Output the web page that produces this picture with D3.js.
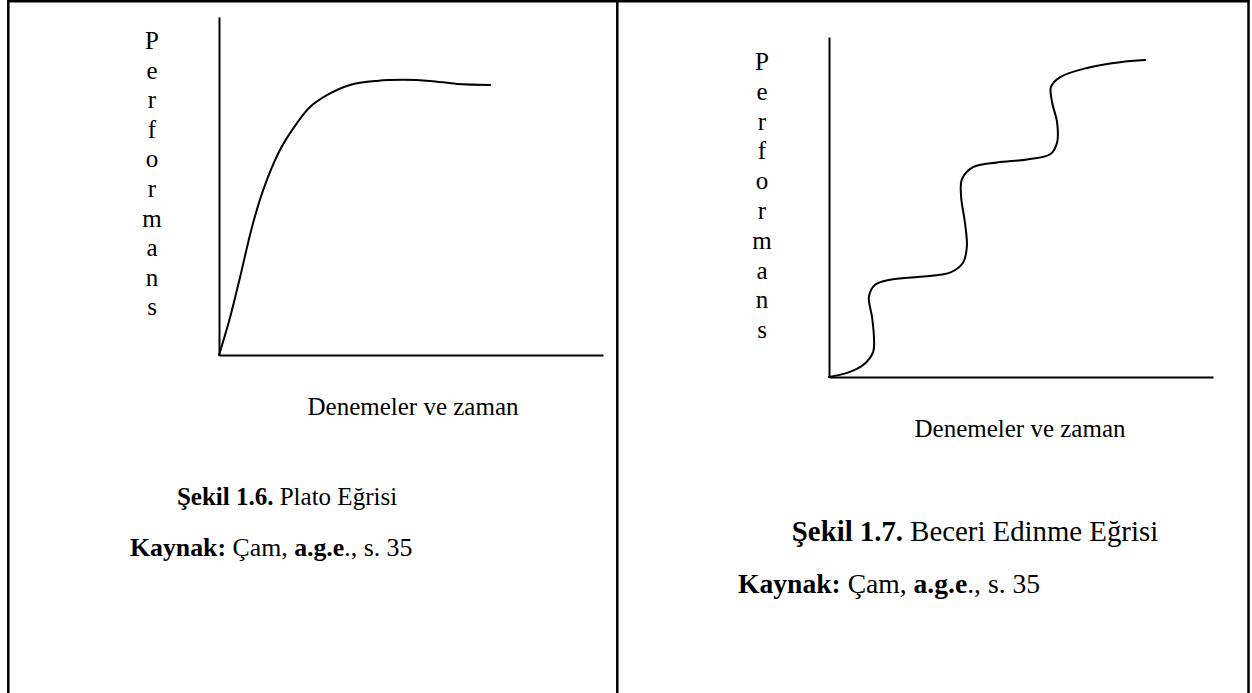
<!DOCTYPE html>
<html>
<head>
<meta charset="utf-8">
<script src="https://cdn.jsdelivr.net/npm/d3@7"></script>
<style>
  html, body { margin: 0; padding: 0; background: #fff; }
  svg { display: block; }
  text { font-family: "Liberation Serif", "Times New Roman", serif; fill: #000; }
</style>
</head>
<body>
<svg id="chart" width="1252" height="693"></svg>
<script>
// Plateau curve (Şekil 1.6): trials/time vs. performance, 0–100 scale
const plateauTrial = [0, 2.9, 5.5, 8.6, 11.5, 15.9, 20.3, 23.7, 28.1, 34.1, 41.1, 47.9, 54.9, 62.0, 70.6];
const plateauPerf  = [0, 11.2, 23.1, 37.9, 48.8, 60.7, 68.6, 73.4, 76.9, 79.9, 81.1, 81.4, 81.1, 80.2, 79.9];

// Skill acquisition curve (Şekil 1.7): stepwise rises with plateaus
const skillTrial = [0, 4.7, 8.9, 11.5, 11.7, 11.2, 10.4, 12.0, 15.9, 23.7, 31.5, 34.9, 35.9, 35.4, 34.4, 34.6, 37.5, 43.8, 51.6, 57.6, 59.4, 59.4, 58.1, 57.8, 60.2, 67.2, 75.8, 82.3];
const skillPerf  = [0, 1.2, 3.5, 7.4, 11.8, 17.7, 23.6, 27.1, 28.6, 29.5, 30.7, 33.6, 38.3, 45.4, 53.1, 58.1, 61.7, 63.1, 64.0, 65.5, 69.0, 74.9, 80.8, 85.3, 88.2, 90.9, 92.6, 93.2];

const yAxisLetters = "Performans".split("");
const xAxisLabel = "Denemeler ve zaman";
const captions = [
  { bold: "Şekil 1.6.", normal: " Plato Eğrisi" },
  { bold: "Şekil 1.7.", normal: " Beceri Edinme Eğrisi" }
];
const source = [
  { t: "Kaynak:", b: true }, { t: " Çam, ", b: false },
  { t: "a.g.e", b: true }, { t: "., s. 35", b: false }
];

const svg = d3.select("#chart");
const FS = 25;

// table frame
svg.append("line").attr("x1", 8).attr("x2", 1249.5).attr("y1", 1.2).attr("y2", 1.2)
  .attr("stroke", "#000").attr("stroke-width", 2.5);
[8.3, 617.3, 1248.5].forEach(x => {
  svg.append("line").attr("x1", x).attr("x2", x).attr("y1", 0).attr("y2", 693)
    .attr("stroke", "#000").attr("stroke-width", 2.5);
});

const panels = [
  {
    trial: plateauTrial, perf: plateauPerf,
    xRange: [219, 603], yRange: [355, 17],
    letterX: 152, letterY0: 49, letterStep: 29.6,
    xLabelX: 413, xLabelY: 415,
    caption: captions[0], captionX: 287, captionY: 505, captionFS: 25,
    sourceX: 130, sourceY: 556, sourceFS: 25.8
  },
  {
    trial: skillTrial, perf: skillPerf,
    xRange: [829, 1213], yRange: [377, 37],
    letterX: 762, letterY0: 70, letterStep: 29.8,
    xLabelX: 1020, xLabelY: 437,
    caption: captions[1], captionX: 975, captionY: 541, captionFS: 28.8,
    sourceX: 738, sourceY: 593, sourceFS: 27.6
  }
];

panels.forEach(p => {
  const x = d3.scaleLinear().domain([0, 100]).range(p.xRange);
  const y = d3.scaleLinear().domain([0, 100]).range(p.yRange);
  const g = svg.append("g");

  // axes: plain lines, no ticks
  const xAxis = g.append("g").attr("transform", `translate(0,${p.yRange[0]})`)
    .call(d3.axisBottom(x).tickValues([]).tickSizeOuter(0));
  const yAxis = g.append("g").attr("transform", `translate(${p.xRange[0]},0)`)
    .call(d3.axisLeft(y).tickValues([]).tickSizeOuter(0));
  [xAxis, yAxis].forEach(a => a.select(".domain").attr("stroke", "#000").attr("stroke-width", 2));

  // curve
  const pts = p.trial.map((t, i) => [t, p.perf[i]]);
  const line = d3.line().x(d => x(d[0])).y(d => y(d[1])).curve(d3.curveCatmullRom.alpha(0.5));
  g.append("path").datum(pts).attr("d", line)
    .attr("fill", "none").attr("stroke", "#000").attr("stroke-width", 2)
    .attr("stroke-linejoin", "round").attr("stroke-linecap", "round");

  // vertical y-axis label, one letter per line
  g.append("g").selectAll("text").data(yAxisLetters).join("text")
    .attr("x", p.letterX).attr("y", (d, i) => p.letterY0 + i * p.letterStep)
    .attr("text-anchor", "middle").attr("font-size", FS).text(d => d);

  // x-axis label
  g.append("text").attr("x", p.xLabelX).attr("y", p.xLabelY)
    .attr("text-anchor", "middle").attr("font-size", FS).text(xAxisLabel);

  // figure caption
  const cap = g.append("text").attr("x", p.captionX).attr("y", p.captionY)
    .attr("text-anchor", "middle").attr("font-size", p.captionFS);
  cap.append("tspan").attr("font-weight", "bold").text(p.caption.bold);
  cap.append("tspan").text(p.caption.normal);

  // source line
  const src = g.append("text").attr("x", p.sourceX).attr("y", p.sourceY).attr("font-size", p.sourceFS);
  source.forEach(s => src.append("tspan").attr("font-weight", s.b ? "bold" : "normal").text(s.t));
});
</script>
</body>
</html>
